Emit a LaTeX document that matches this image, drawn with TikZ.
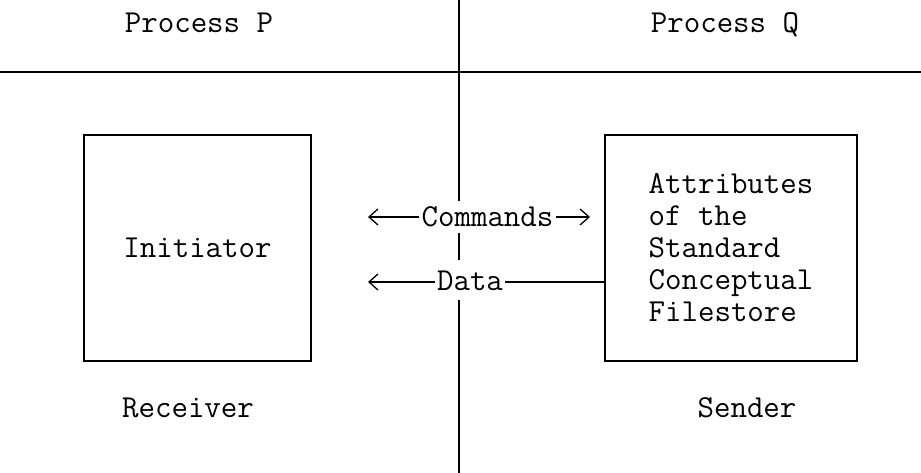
\documentclass[tikz,border=0pt]{standalone}
\usepackage{fontspec}
\usetikzlibrary{arrows.meta}
\begin{document}
\begin{tikzpicture}[x=1pt,y=-1pt,
  every node/.style={font=\ttfamily\fontsize{32}{32}\selectfont, inner sep=0pt},
  box/.style={draw, line width=1.6pt, minimum height=226pt, align=left},
  lbl/.style={fill=white, inner xsep=2pt, inner ysep=6pt},
  rule/.style={line width=2pt},
  conn/.style={line width=1.3pt},
  arr/.style={conn, -{Straight Barb[length=9pt,width=16pt,line width=1.3pt]}}
]
\useasboundingbox[fill=white] (0,0) rectangle (921,473);

% dividing lines
\coordinate (vt) at (459,0);
\coordinate (vb) at (459,473);
\coordinate (hl) at (0,72);
\coordinate (hr) at (921,72);
\draw[rule] (vt) -- (vb);
\draw[rule] (hl) -- (hr);

% headings and captions
\node[anchor=base] (pp) at (199,33) {Process P};
\node[anchor=base] (pq) at (725,33) {Process Q};
\node[anchor=base] (recv) at (188,417) {Receiver};
\node[anchor=base] (send) at (747,417) {Sender};

% boxes
\node[box, minimum width=227pt] (lbox) at (197.5,248) {Initiator};
\node[box, minimum width=252pt] (rbox) at (731,248)
  {Attributes\\of the\\Standard\\Conceptual\\Filestore};

% labels on the channel
\node[lbl, anchor=base] (cmd) at (487.5,227) {Commands};
\node[lbl, anchor=base, inner ysep=10pt] (data) at (470,290) {Data};

% arrows
\coordinate (cl) at (368,217);
\coordinate (cr) at (590,217);
\coordinate (dl) at (368,282);
\draw[arr] (cmd.west |- cl) -- (cl);
\draw[arr] (cmd.east |- cr) -- (cr);
\draw[arr] (data.west |- dl) -- (dl);
\draw[conn] (data.east |- dl) -- (rbox.west |- dl);
\end{tikzpicture}
\end{document}
